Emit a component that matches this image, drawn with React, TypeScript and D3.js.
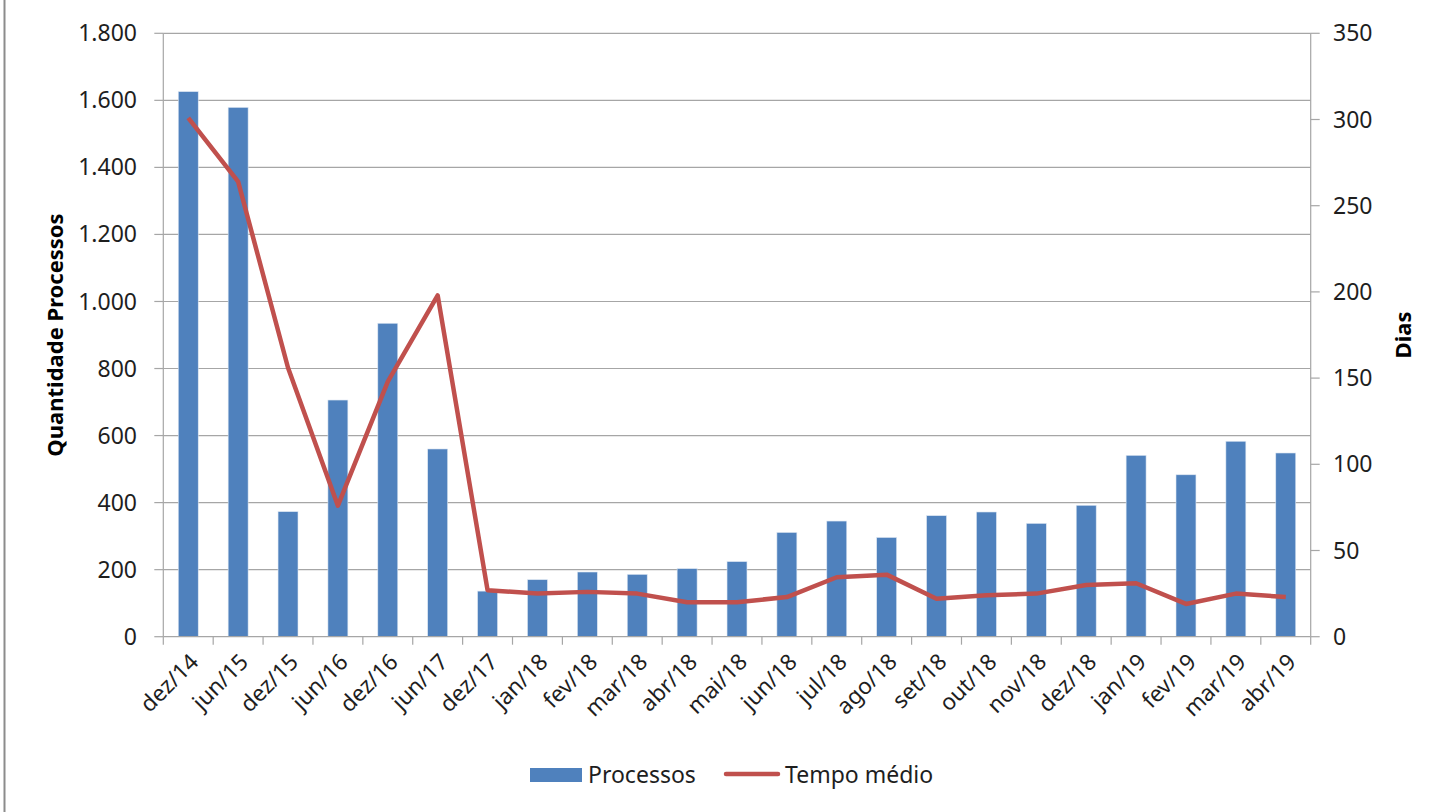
import { useEffect, useRef } from 'react';
import * as d3 from 'd3';

const categories = [
  'dez/14', 'jun/15', 'dez/15', 'jun/16', 'dez/16', 'jun/17', 'dez/17',
  'jan/18', 'fev/18', 'mar/18', 'abr/18', 'mai/18', 'jun/18', 'jul/18',
  'ago/18', 'set/18', 'out/18', 'nov/18', 'dez/18', 'jan/19', 'fev/19',
  'mar/19', 'abr/19',
];

// Quantidade de processos (eixo esquerdo)
const processos = [
  1626, 1579, 373, 706, 935, 560, 136, 170, 193, 186, 203, 224, 311, 345,
  296, 361, 372, 338, 392, 541, 483, 583, 548,
];

// Tempo médio em dias (eixo direito)
const tempoMedio = [
  301, 264, 156, 76, 148, 198, 27, 25, 26, 25, 20, 20, 23, 34.5,
  36, 22, 24, 25, 30, 31, 19, 25, 23,
];

const leftTicks = [0, 200, 400, 600, 800, 1000, 1200, 1400, 1600, 1800];
const rightTicks = [0, 50, 100, 150, 200, 250, 300, 350];

const fmt = (v: number) => d3.format(',')(v).replace(/,/g, '.');

export default function App() {
  const svgRef = useRef<SVGSVGElement>(null);

  useEffect(() => {
    if (!svgRef.current) return;
    const svg = d3.select(svgRef.current);
    svg.selectAll('*').remove();

    const width = 1437;
    const height = 812;
    const left = 163.3;
    const right = 1310.7;
    const top = 33.3;
    const bottom = 636.7;
    const font = "'Noto Sans', 'Open Sans', sans-serif";
    const grid = '#a6a6a6';
    const blue = '#4f81bd';
    const red = '#c0504d';
    const ink = '#1e1e1e';

    svg.append('rect').attr('width', width).attr('height', height).attr('fill', '#fff');

    // borda cinza à esquerda
    svg.append('line')
      .attr('x1', 4.5).attr('x2', 4.5).attr('y1', 0).attr('y2', height)
      .attr('stroke', '#8c8c8c').attr('stroke-width', 2);

    const x = d3.scaleBand().domain(categories).range([left, right]);
    const yL = d3.scaleLinear().domain([0, 1800]).range([bottom, top]);
    const yR = d3.scaleLinear().domain([0, 350]).range([bottom, top]);

    // grade
    svg.append('g').selectAll('line').data(leftTicks.filter(t => t > 0)).join('line')
      .attr('x1', left).attr('x2', right)
      .attr('y1', d => yL(d)).attr('y2', d => yL(d))
      .attr('stroke', grid).attr('stroke-width', 1.2);

    // eixos verticais
    svg.append('line').attr('x1', left).attr('x2', left).attr('y1', top).attr('y2', bottom)
      .attr('stroke', grid).attr('stroke-width', 1.2);
    svg.append('line').attr('x1', right).attr('x2', right).attr('y1', top).attr('y2', bottom)
      .attr('stroke', grid).attr('stroke-width', 1.2);

    // marcas eixo esquerdo
    const gl = svg.append('g');
    gl.selectAll('line').data(leftTicks).join('line')
      .attr('x1', left - 9).attr('x2', left)
      .attr('y1', d => yL(d)).attr('y2', d => yL(d))
      .attr('stroke', grid).attr('stroke-width', 1.2);
    gl.selectAll('text').data(leftTicks).join('text')
      .attr('x', 137).attr('y', d => yL(d)).attr('dy', '0.35em')
      .attr('text-anchor', 'end').attr('font-family', font).attr('font-size', 23)
      .attr('fill', ink).text(d => fmt(d));

    // marcas eixo direito
    const gr = svg.append('g');
    gr.selectAll('line').data(rightTicks).join('line')
      .attr('x1', right).attr('x2', right + 9)
      .attr('y1', d => yR(d)).attr('y2', d => yR(d))
      .attr('stroke', grid).attr('stroke-width', 1.2);
    gr.selectAll('text').data(rightTicks).join('text')
      .attr('x', 1333).attr('y', d => yR(d)).attr('dy', '0.35em')
      .attr('text-anchor', 'start').attr('font-family', font).attr('font-size', 23)
      .attr('fill', ink).text(d => d);

    // barras
    const bw = x.bandwidth() * 0.4;
    svg.append('g').selectAll('rect').data(processos).join('rect')
      .attr('x', (_, i) => (x(categories[i]) as number) + (x.bandwidth() - bw) / 2)
      .attr('y', d => yL(d))
      .attr('width', bw)
      .attr('height', d => bottom - yL(d))
      .attr('fill', blue)
      .attr('stroke', '#dce6f2').attr('stroke-width', 0.6);

    // eixo x
    svg.append('line').attr('x1', left).attr('x2', right).attr('y1', bottom).attr('y2', bottom)
      .attr('stroke', grid).attr('stroke-width', 1.2);
    const ticksX = categories.map(c => x(c) as number).concat([right]);
    svg.append('g').selectAll('line').data(ticksX).join('line')
      .attr('x1', d => d).attr('x2', d => d).attr('y1', bottom).attr('y2', bottom + 8)
      .attr('stroke', grid).attr('stroke-width', 1.2);

    svg.append('g').selectAll('text').data(categories).join('text')
      .attr('transform', d => `translate(${(x(d) as number) + x.bandwidth() / 2 + 6},${bottom + 21}) rotate(-45)`)
      .attr('text-anchor', 'end').attr('dy', '0.35em')
      .attr('font-family', font).attr('font-size', 22.5).attr('fill', ink)
      .text(d => d);

    // linha tempo médio
    const line = d3.line<number>()
      .x((_, i) => (x(categories[i]) as number) + x.bandwidth() / 2)
      .y(d => yR(d));
    svg.append('path').datum(tempoMedio)
      .attr('d', line)
      .attr('fill', 'none').attr('stroke', red).attr('stroke-width', 4.5)
      .attr('stroke-linejoin', 'round');

    // títulos dos eixos
    svg.append('text')
      .attr('transform', `translate(63,${(top + bottom) / 2}) rotate(-90)`)
      .attr('text-anchor', 'middle').attr('font-family', font).attr('font-weight', 'bold')
      .attr('font-size', 22).attr('fill', '#000').text('Quantidade Processos');
    svg.append('text')
      .attr('transform', `translate(1411,${(top + bottom) / 2}) rotate(-90)`)
      .attr('text-anchor', 'middle').attr('font-family', font).attr('font-weight', 'bold')
      .attr('font-size', 22).attr('fill', '#000').text('Dias');

    // legenda
    const lg = svg.append('g');
    lg.append('rect').attr('x', 530).attr('y', 768).attr('width', 52).attr('height', 14).attr('fill', blue);
    lg.append('text').attr('x', 588).attr('y', 775).attr('dy', '0.35em')
      .attr('font-family', font).attr('font-size', 23).attr('fill', ink).text('Processos');
    lg.append('line').attr('x1', 726).attr('x2', 778).attr('y1', 774).attr('y2', 774)
      .attr('stroke', red).attr('stroke-width', 4.5).attr('stroke-linecap', 'round');
    lg.append('text').attr('x', 785).attr('y', 775).attr('dy', '0.35em')
      .attr('font-family', font).attr('font-size', 23).attr('fill', ink).text('Tempo médio');
  }, []);

  return (
    <svg
      ref={svgRef}
      width={1437}
      height={812}
      style={{ position: 'absolute', left: 0, top: 0, display: 'block' }}
    />
  );
}
